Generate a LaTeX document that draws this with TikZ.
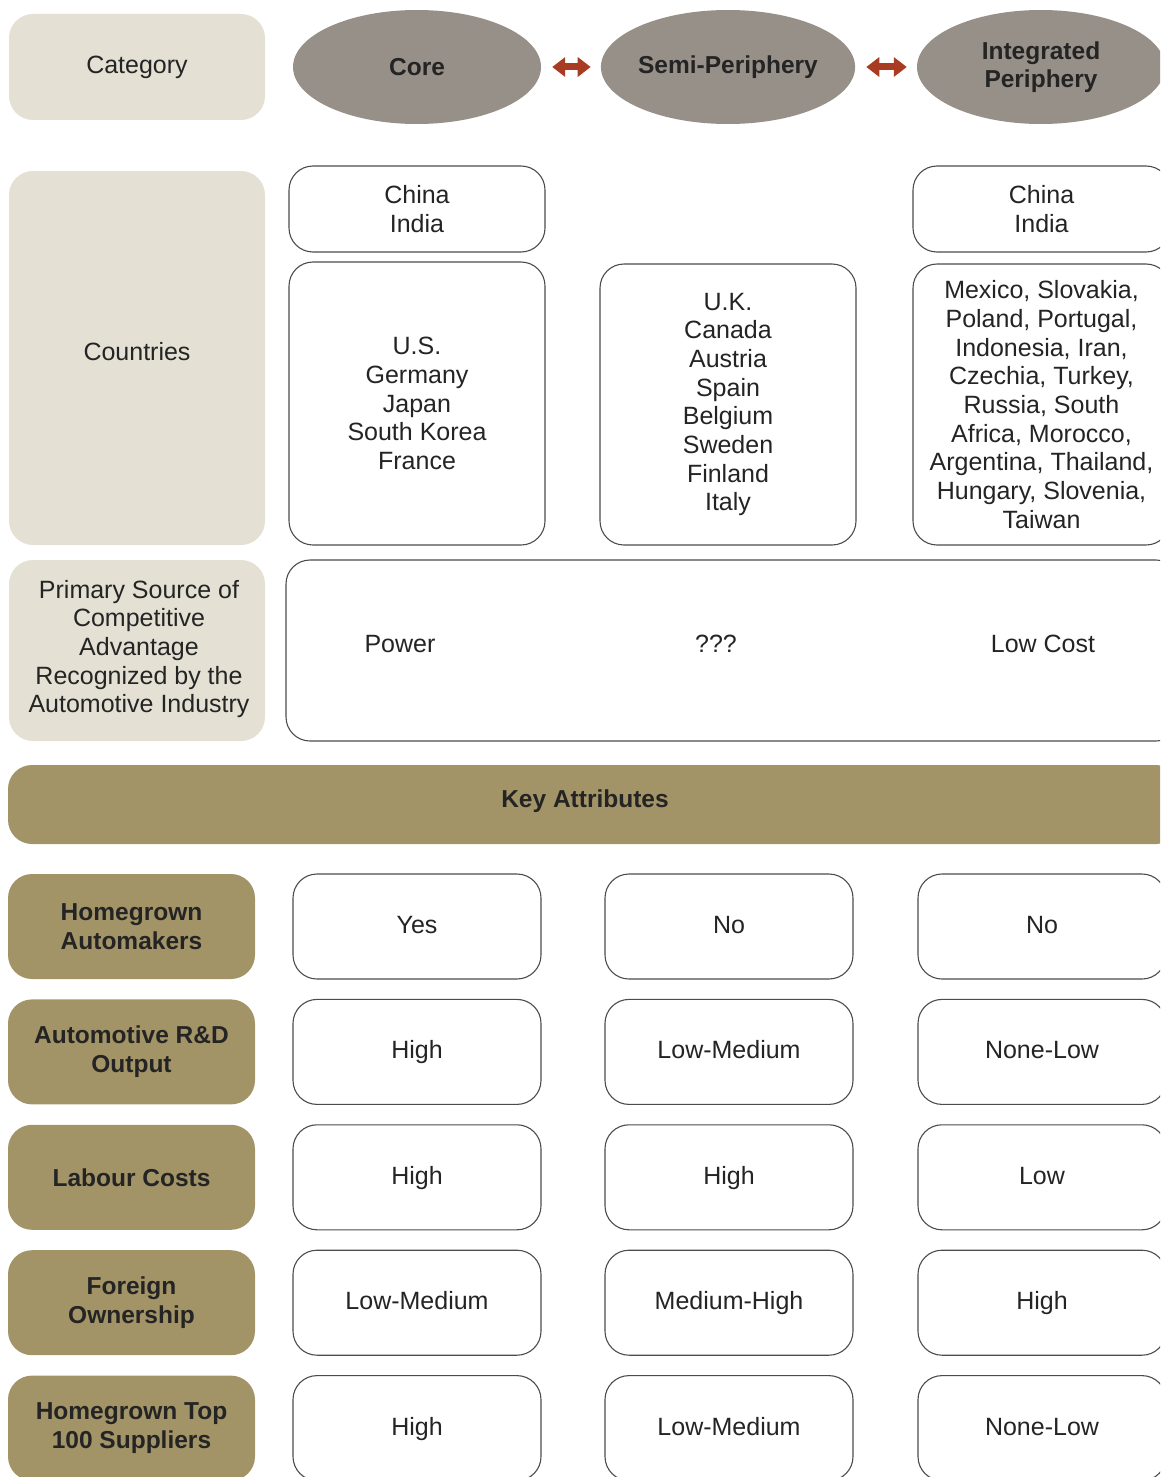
\documentclass[tikz,border=0pt]{standalone}
\usepackage{fontspec}
\setmainfont{Liberation Sans}
\usetikzlibrary{positioning}
\usetikzlibrary{shapes.geometric}
\usetikzlibrary{arrows.meta}
\tikzset{
  font={\fontsize{25pt}{28.7pt}\selectfont}
}
\definecolor{catFill}{HTML}{E4E0D4}
\definecolor{tierFill}{HTML}{979089}
\definecolor{attrFill}{HTML}{A39467}
\definecolor{swapRed}{HTML}{A83B22}
\definecolor{textDark}{HTML}{242424}
\def\lineColor{black!70}
\def\rowTop{926.5}
\def\rowSep{125.4}
\tikzstyle{catbox}=[rectangle,rounded corners=24pt,fill=catFill,minimum width=256pt,align=center,text=textDark]
\tikzstyle{tierhead}=[ellipse,fill=tierFill,minimum width=248pt,minimum height=114pt,inner sep=0pt,align=center,text=textDark,font={\fontsize{24.5pt}{28pt}\selectfont\bfseries}]
\tikzstyle{valbox}=[rectangle,rounded corners=24pt,draw=\lineColor,line width=1.1pt,fill=white,align=center,text=textDark]
\tikzstyle{cellbox}=[valbox,minimum width=248pt,minimum height=105pt,text height=19pt,text depth=5pt]
\tikzstyle{attrbox}=[rectangle,rounded corners=24pt,fill=attrFill,minimum width=247pt,minimum height=105pt,align=center,text=textDark,font={\fontsize{24.5pt}{28.7pt}\selectfont\bfseries}]
\tikzstyle{swap}=[{Triangle[length=13pt,width=19pt]}-{Triangle[length=13pt,width=19pt]},line width=7pt,draw=swapRed,shorten <=11pt,shorten >=10pt]
\tikzstyle{plain}=[align=center,text=textDark]
\newcommand{\attrRow}[5]{
    \node[attrbox] (attr-#1) at (131.5, \rowTop + #1 * \rowSep - \rowSep) {#2};
    \node[cellbox] (core-#1) at (417, \rowTop + #1 * \rowSep - \rowSep) {#3};
    \node[cellbox] (semi-#1) at (729, \rowTop + #1 * \rowSep - \rowSep) {#4};
    \node[cellbox] (integ-#1) at (1042, \rowTop + #1 * \rowSep - \rowSep) {#5};
}

\begin{document}
\begin{tikzpicture}[x=1pt,y=-1pt]
    \useasboundingbox (0,0) rectangle (1160,1477);
    \clip (0,0) rectangle (1160,1477);

    % tier headings
    \node[catbox,minimum height=106pt] (category) at (137, 67) {};
    \node[plain] (category-text) at (137, 67) {Category};
    \node[tierhead] (core) at (417, 67) {Core};
    \node[tierhead] (semi) at (728, 67) {Semi-Periphery};
    \node[tierhead] (integ) at (1041, 67) {Integrated\\Periphery};
    \draw[swap] (core.east) -- (semi.west);
    \draw[swap] (semi.east) -- (integ.west);

    % countries
    \node[catbox,minimum height=374pt] (countries) at (137, 358) {};
    \node[plain] (countries-text) at (137, 352) {Countries};
    \node[valbox,minimum width=256pt,minimum height=86pt] (core-cn) at (417, 209) {China\\India};
    \node[valbox,minimum width=256pt,minimum height=283pt] (core-list) at (417, 403.5) {U.S.\\Germany\\Japan\\South Korea\\France};
    \node[valbox,minimum width=256pt,minimum height=281pt] (semi-list) at (728, 404.5) {U.K.\\Canada\\Austria\\Spain\\Belgium\\Sweden\\Finland\\Italy};
    \node[valbox,minimum width=257pt,minimum height=86pt] (integ-cn) at (1041.5, 209) {China\\India};
    \node[valbox,minimum width=257pt,minimum height=281pt] (integ-list) at (1041.5, 404.5) {Mexico, Slovakia,\\Poland, Portugal,\\Indonesia, Iran,\\Czechia, Turkey,\\Russia, South\\Africa, Morocco,\\Argentina, Thailand,\\Hungary, Slovenia,\\Taiwan};

    % competitive advantage
    \node[catbox,minimum height=181pt] (source) at (137, 650.5) {};
    \node[plain] (source-text) at (139, 649) {Primary Source of\\Competitive\\Advantage\\Recognized by the\\Automotive Industry};
    \node[valbox,minimum width=894pt,minimum height=181pt] (advantage) at (733, 650.5) {};
    \node[plain] (adv-core) at (400, 644) {Power};
    \node[plain] (adv-semi) at (716, 644) {???};
    \node[plain] (adv-integ) at (1043, 644) {Low Cost};

    % key attributes
    \node[rectangle,rounded corners=24pt,fill=attrFill,minimum width=1172pt,minimum height=79pt] (keybar) at (594, 804.5) {};
    \node[plain,font={\fontsize{24.5pt}{28pt}\selectfont\bfseries}] (keytitle) at (585, 801) {Key Attributes};

    \attrRow{1}{Homegrown\\Automakers}{Yes}{No}{No}
    \attrRow{2}{Automotive R\&D\\Output}{High}{Low-Medium}{None-Low}
    \attrRow{3}{Labour Costs}{High}{High}{Low}
    \attrRow{4}{Foreign\\Ownership}{Low-Medium}{Medium-High}{High}
    \attrRow{5}{Homegrown Top\\100 Suppliers}{High}{Low-Medium}{None-Low}
\end{tikzpicture}
\end{document}
